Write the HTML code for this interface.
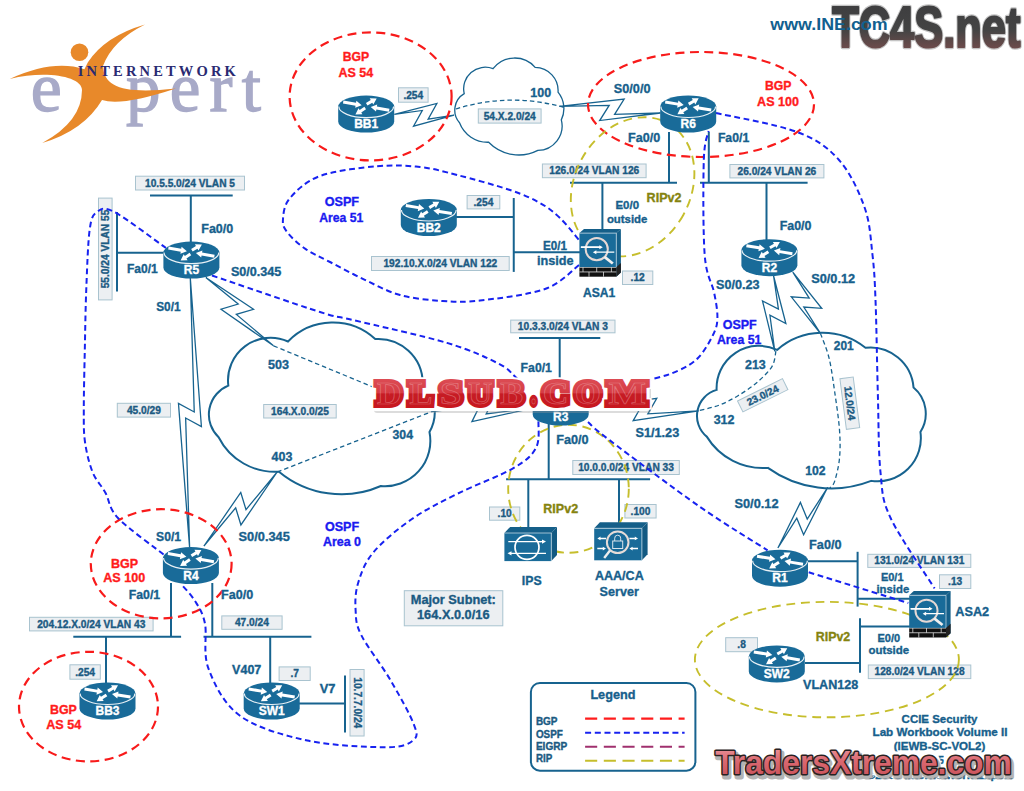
<!DOCTYPE html>
<html><head><meta charset="utf-8"><title>CCIE Security Lab Diagram</title>
<style>html,body{margin:0;padding:0;background:#fff;overflow:hidden;width:1024px;height:791px;font-family:"Liberation Sans",sans-serif}svg{display:block}</style>
</head><body>
<svg width="1024" height="791" viewBox="0 0 1024 791"><defs>
<linearGradient id="gtc" x1="0" y1="0" x2="0" y2="1">
<stop offset="0" stop-color="#3c3c3e"/><stop offset="0.55" stop-color="#444"/><stop offset="1" stop-color="#85504f"/></linearGradient>
<linearGradient id="gdl" x1="0" y1="0" x2="0" y2="1">
<stop offset="0" stop-color="#de5058"/><stop offset="0.48" stop-color="#d63c44"/><stop offset="0.52" stop-color="#c61c24"/><stop offset="1" stop-color="#c8161e"/></linearGradient>
<linearGradient id="gtx" x1="0" y1="0" x2="0" y2="1">
<stop offset="0" stop-color="#ee9ca2"/><stop offset="0.45" stop-color="#da6870"/><stop offset="1" stop-color="#c44c54"/></linearGradient>
</defs><g><text x="30.8" y="111.2" font-family='"Liberation Serif", serif' font-size="69" fill="#a8aac8" stroke="#a8aac8" stroke-width="1.3" textLength="31" lengthAdjust="spacingAndGlyphs">e</text><text x="126" y="111.2" font-family='"Liberation Serif", serif' font-size="69" fill="#a8aac8" stroke="#a8aac8" stroke-width="1.3" textLength="135" lengthAdjust="spacing">pert</text><circle cx="79.5" cy="52.2" r="8.8" fill="#e8892a"/><path d="M9.7,78.9 Q53,59 84.4,69.2 L87.9,62.2 Q105,36 145,24.4 Q112,40.8 103,66 C104,88 125,94 175.8,88.6 Q121,106.7 102,100 Q84,130.5 42.2,143 Q81.9,121.5 82,90 C82,76 45,70 9.7,78.9 Z" fill="#e8892a"/><text x="77.8" y="75.6" font-family='"Liberation Serif", serif' font-size="14.5" font-weight="bold" fill="#2a2a72" textLength="158" lengthAdjust="spacing">INTERNETWORK</text></g>
<path d="M464.22,93.65 A21.49,21.49 0 0 1 493.02,68.71 A27.19,27.19 0 0 1 535.13,67.35 A23.23,23.23 0 0 1 558.04,92.19 A25.94,25.94 0 0 1 561.32,119.85 A24.44,24.44 0 0 1 537.86,150.34 A41.93,41.93 0 0 1 488.66,142.25 A30.08,30.08 0 0 1 459.53,122.77 A19.15,19.15 0 0 1 464.22,93.65 Z" fill="#ffffff" stroke="#17638f" stroke-width="1.3"/>
<path d="M228.34,385.63 A42.56,42.56 0 0 1 288,341.48 A62.61,62.61 0 0 1 375.24,339.06 A44.47,44.47 0 0 1 422.7,383.05 A40.68,40.68 0 0 1 429.48,432.04 A45.36,45.36 0 0 1 380.89,486.03 A97.98,97.98 0 0 1 278.96,471.71 A63.21,63.21 0 0 1 218.62,437.21 A31.23,31.23 0 0 1 228.34,385.63 Z" fill="#ffffff" stroke="#17638f" stroke-width="2"/>
<path d="M716.61,389.91 A42.38,42.38 0 0 1 777.07,349.89 A68.92,68.92 0 0 1 865.46,347.7 A43.36,43.36 0 0 1 913.55,387.56 A34.01,34.01 0 0 1 920.42,431.95 A43.2,43.2 0 0 1 871.18,480.87 A108.78,108.78 0 0 1 767.91,467.9 A65.76,65.76 0 0 1 706.76,436.64 A26.97,26.97 0 0 1 716.61,389.91 Z" fill="#ffffff" stroke="#17638f" stroke-width="2"/>
<path d="M455.8,109 Q510,92 564,107.5" fill="none" stroke="#17638f" stroke-width="1.3" stroke-dasharray="4.5,3"/>
<path d="M273.5,345.8 L432,411.5" fill="none" stroke="#17638f" stroke-width="1.3" stroke-dasharray="4.5,3"/>
<path d="M277.2,472 L432,411.5" fill="none" stroke="#17638f" stroke-width="1.3" stroke-dasharray="4.5,3"/>
<path d="M775.9,351.1 C775.27,353.63 775.25,361.08 772.1,366.3 C768.95,371.52 762.68,377.5 757,382.4 C751.32,387.3 744.33,391.9 738,395.7 C731.67,399.5 725.67,402.67 719,405.2 C712.33,407.73 701.5,409.95 698,410.9 " fill="none" stroke="#17638f" stroke-width="1.3" stroke-dasharray="4.5,3"/>
<path d="M820.4,333.4 C821.83,337.47 826.62,348.03 829,357.8 C831.38,367.57 832.95,379.98 834.7,392 C836.45,404.02 838.7,418.85 839.5,429.9 C840.3,440.95 840.3,449.77 839.5,458.3 C838.7,466.83 836.28,476.15 834.7,481.1 C833.12,486.05 830.78,486.85 830,488 " fill="none" stroke="#17638f" stroke-width="1.3" stroke-dasharray="4.5,3"/>
<line x1="669" y1="132" x2="669" y2="183" stroke="#17638f" stroke-width="2"/>
<line x1="708.8" y1="132" x2="708.8" y2="183" stroke="#17638f" stroke-width="2"/>
<line x1="570" y1="182.8" x2="677" y2="182.8" stroke="#17638f" stroke-width="2"/>
<line x1="700" y1="182.8" x2="807.6" y2="182.8" stroke="#17638f" stroke-width="2"/>
<line x1="602.4" y1="182.8" x2="602.4" y2="230" stroke="#17638f" stroke-width="2"/>
<line x1="766.5" y1="182.8" x2="766.5" y2="240" stroke="#17638f" stroke-width="2"/>
<line x1="456" y1="216.9" x2="513.75" y2="216.9" stroke="#17638f" stroke-width="2"/>
<line x1="513.75" y1="198" x2="513.75" y2="271.9" stroke="#17638f" stroke-width="2"/>
<line x1="513.75" y1="252.2" x2="580" y2="252.2" stroke="#17638f" stroke-width="2"/>
<line x1="150" y1="195.5" x2="232.7" y2="195.5" stroke="#17638f" stroke-width="2"/>
<line x1="190.8" y1="195.5" x2="190.8" y2="243" stroke="#17638f" stroke-width="2"/>
<line x1="117" y1="212" x2="117" y2="291.5" stroke="#17638f" stroke-width="2"/>
<line x1="117" y1="252.7" x2="165" y2="252.7" stroke="#17638f" stroke-width="2"/>
<line x1="519" y1="338" x2="600.3" y2="338" stroke="#17638f" stroke-width="2"/>
<line x1="559.7" y1="338" x2="559.7" y2="390" stroke="#17638f" stroke-width="2"/>
<line x1="548.7" y1="424" x2="548.7" y2="479.3" stroke="#17638f" stroke-width="2"/>
<line x1="506.1" y1="479.3" x2="650.1" y2="479.3" stroke="#17638f" stroke-width="2"/>
<line x1="528.3" y1="479.3" x2="528.3" y2="527" stroke="#17638f" stroke-width="2"/>
<line x1="619" y1="479.3" x2="619" y2="524" stroke="#17638f" stroke-width="2"/>
<line x1="171" y1="583" x2="171" y2="636.7" stroke="#17638f" stroke-width="2"/>
<line x1="212.3" y1="583" x2="212.3" y2="636.7" stroke="#17638f" stroke-width="2"/>
<line x1="73.3" y1="636.7" x2="181.1" y2="636.7" stroke="#17638f" stroke-width="2"/>
<line x1="203.5" y1="636.7" x2="311.4" y2="636.7" stroke="#17638f" stroke-width="2"/>
<line x1="106" y1="636.7" x2="106" y2="684" stroke="#17638f" stroke-width="2"/>
<line x1="270.2" y1="636.7" x2="270.2" y2="684" stroke="#17638f" stroke-width="2"/>
<line x1="299" y1="703.4" x2="345" y2="703.4" stroke="#17638f" stroke-width="2"/>
<line x1="345" y1="675.4" x2="345" y2="732.6" stroke="#17638f" stroke-width="2"/>
<line x1="808" y1="561.2" x2="857.6" y2="561.2" stroke="#17638f" stroke-width="2"/>
<line x1="857.6" y1="551.8" x2="857.6" y2="606.6" stroke="#17638f" stroke-width="2"/>
<line x1="857.6" y1="598.7" x2="910" y2="598.7" stroke="#17638f" stroke-width="2"/>
<line x1="805" y1="663" x2="860" y2="663" stroke="#17638f" stroke-width="2"/>
<line x1="860" y1="618.2" x2="860" y2="672.7" stroke="#17638f" stroke-width="2"/>
<line x1="860" y1="626.4" x2="910" y2="626.4" stroke="#17638f" stroke-width="2"/>
<polygon points="394.3,114.4 436.85,103.47 428.14,119.15 454,115.2 413.54,126.16 422.26,110.47" fill="none" stroke="#17638f" stroke-width="1.3" stroke-linejoin="miter"/>
<polygon points="660.5,113 599.68,120.55 609.19,105.34 559.4,106.4 624.13,99.1 614.62,114.31" fill="none" stroke="#17638f" stroke-width="1.3" stroke-linejoin="miter"/>
<polygon points="205.8,277.5 253.53,309.32 236.33,314.4 273.5,345.8 221,309.18 238.21,304.09" fill="none" stroke="#17638f" stroke-width="1.3" stroke-linejoin="miter"/>
<polygon points="190.3,278 201.41,426.53 185.64,417.99 189.6,547.5 178.47,403.47 194.25,412.01" fill="none" stroke="#17638f" stroke-width="1.3" stroke-linejoin="miter"/>
<polygon points="203.9,546 240.77,492.44 246.01,509.6 277.2,472 240.92,524.96 235.68,507.81" fill="none" stroke="#17638f" stroke-width="1.3" stroke-linejoin="miter"/>
<polygon points="533,408 471.94,421.62 479.88,405.54 432,411.5 494.12,397.84 486.18,413.93" fill="none" stroke="#17638f" stroke-width="1.3" stroke-linejoin="miter"/>
<polygon points="588,408 656.77,398.24 647.87,413.82 698.7,410.8 633.19,420.65 642.09,405.07" fill="none" stroke="#17638f" stroke-width="1.3" stroke-linejoin="miter"/>
<polygon points="773.6,276 785.86,323.51 769.92,315.26 774.8,351.4 762.49,300.88 778.43,309.13" fill="none" stroke="#17638f" stroke-width="1.3" stroke-linejoin="miter"/>
<polygon points="792.8,272.2 821.7,308.31 803.8,307.06 820.4,333.4 791.28,296.8 809.18,298.05" fill="none" stroke="#17638f" stroke-width="1.3" stroke-linejoin="miter"/>
<polygon points="777.9,548 800.41,502.44 807.23,519.03 827.7,487.3 803.6,534.81 796.78,518.21" fill="none" stroke="#17638f" stroke-width="1.3" stroke-linejoin="miter"/>
<rect x="398.5" y="87.8" width="29.6" height="14.4" fill="#eceff2" stroke="#a9c3cf" stroke-width="1"/><text x="413.3" y="98.51" font-family='"Liberation Sans", sans-serif' font-size="10.2" font-weight="bold" fill="#1b5a82" stroke="#1b5a82" stroke-width="0.35" text-anchor="middle" >.254</text>
<rect x="478.3" y="108.9" width="62.8" height="14.2" fill="#eceff2" stroke="#a9c3cf" stroke-width="1"/><text x="509.7" y="119.51" font-family='"Liberation Sans", sans-serif' font-size="10.2" font-weight="bold" fill="#1b5a82" stroke="#1b5a82" stroke-width="0.35" text-anchor="middle" >54.X.2.0/24</text>
<rect x="542.4" y="164" width="103.7" height="13.7" fill="#eceff2" stroke="#a9c3cf" stroke-width="1"/><text x="594.25" y="174.36" font-family='"Liberation Sans", sans-serif' font-size="10.2" font-weight="bold" fill="#1b5a82" stroke="#1b5a82" stroke-width="0.35" text-anchor="middle" >126.0/24 VLAN 126</text>
<rect x="729.9" y="164.5" width="94" height="13.4" fill="#eceff2" stroke="#a9c3cf" stroke-width="1"/><text x="776.9" y="174.71" font-family='"Liberation Sans", sans-serif' font-size="10.2" font-weight="bold" fill="#1b5a82" stroke="#1b5a82" stroke-width="0.35" text-anchor="middle" >26.0/24 VLAN 26</text>
<rect x="622.5" y="271" width="30.3" height="13.5" fill="#eceff2" stroke="#a9c3cf" stroke-width="1"/><text x="637.65" y="281.26" font-family='"Liberation Sans", sans-serif' font-size="10.2" font-weight="bold" fill="#1b5a82" stroke="#1b5a82" stroke-width="0.35" text-anchor="middle" >.12</text>
<rect x="467.1" y="195.5" width="32.7" height="13.4" fill="#eceff2" stroke="#a9c3cf" stroke-width="1"/><text x="483.45" y="205.71" font-family='"Liberation Sans", sans-serif' font-size="10.2" font-weight="bold" fill="#1b5a82" stroke="#1b5a82" stroke-width="0.35" text-anchor="middle" >.254</text>
<rect x="371.5" y="256.5" width="137.7" height="14" fill="#eceff2" stroke="#a9c3cf" stroke-width="1"/><text x="440.35" y="267.01" font-family='"Liberation Sans", sans-serif' font-size="10.2" font-weight="bold" fill="#1b5a82" stroke="#1b5a82" stroke-width="0.35" text-anchor="middle" >192.10.X.0/24 VLAN 122</text>
<rect x="135.5" y="176.2" width="109" height="13.8" fill="#eceff2" stroke="#a9c3cf" stroke-width="1"/><text x="190" y="186.61" font-family='"Liberation Sans", sans-serif' font-size="10.2" font-weight="bold" fill="#1b5a82" stroke="#1b5a82" stroke-width="0.35" text-anchor="middle" >10.5.5.0/24 VLAN 5</text>
<rect x="98.5" y="198.1" width="13.6" height="101.8" fill="#eceff2" stroke="#a9c3cf" stroke-width="1"/><g transform="translate(105.3,249) rotate(-90)"><text x="0" y="3.51" font-family='"Liberation Sans", sans-serif' font-size="10.2" font-weight="bold" fill="#1b5a82" stroke="#1b5a82" stroke-width="0.35" text-anchor="middle" >55.0/24 VLAN 55</text></g>
<rect x="117.3" y="403.3" width="53.2" height="13.8" fill="#eceff2" stroke="#a9c3cf" stroke-width="1"/><text x="143.9" y="413.71" font-family='"Liberation Sans", sans-serif' font-size="10.2" font-weight="bold" fill="#1b5a82" stroke="#1b5a82" stroke-width="0.35" text-anchor="middle" >45.0/29</text>
<rect x="263.7" y="404.5" width="72.5" height="13.5" fill="#eceff2" stroke="#a9c3cf" stroke-width="1"/><text x="299.95" y="414.76" font-family='"Liberation Sans", sans-serif' font-size="10.2" font-weight="bold" fill="#1b5a82" stroke="#1b5a82" stroke-width="0.35" text-anchor="middle" >164.X.0.0/25</text>
<rect x="510.7" y="320.1" width="104.3" height="12.7" fill="#eceff2" stroke="#a9c3cf" stroke-width="1"/><text x="562.85" y="329.96" font-family='"Liberation Sans", sans-serif' font-size="10.2" font-weight="bold" fill="#1b5a82" stroke="#1b5a82" stroke-width="0.35" text-anchor="middle" >10.3.3.0/24 VLAN 3</text>
<rect x="572.8" y="460.5" width="106.5" height="14" fill="#eceff2" stroke="#a9c3cf" stroke-width="1"/><text x="626.05" y="471.01" font-family='"Liberation Sans", sans-serif' font-size="10.2" font-weight="bold" fill="#1b5a82" stroke="#1b5a82" stroke-width="0.35" text-anchor="middle" >10.0.0.0/24 VLAN 33</text>
<rect x="489.5" y="507" width="30.3" height="13.2" fill="#eceff2" stroke="#a9c3cf" stroke-width="1"/><text x="504.65" y="517.11" font-family='"Liberation Sans", sans-serif' font-size="10.2" font-weight="bold" fill="#1b5a82" stroke="#1b5a82" stroke-width="0.35" text-anchor="middle" >.10</text>
<rect x="624.9" y="504.5" width="31.2" height="13.5" fill="#eceff2" stroke="#a9c3cf" stroke-width="1"/><text x="640.5" y="514.76" font-family='"Liberation Sans", sans-serif' font-size="10.2" font-weight="bold" fill="#1b5a82" stroke="#1b5a82" stroke-width="0.35" text-anchor="middle" >.100</text>
<rect x="29.5" y="617.3" width="123.6" height="13.6" fill="#eceff2" stroke="#a9c3cf" stroke-width="1"/><text x="91.3" y="627.61" font-family='"Liberation Sans", sans-serif' font-size="10.2" font-weight="bold" fill="#1b5a82" stroke="#1b5a82" stroke-width="0.35" text-anchor="middle" >204.12.X.0/24 VLAN 43</text>
<rect x="221.8" y="615.9" width="60.3" height="13.4" fill="#eceff2" stroke="#a9c3cf" stroke-width="1"/><text x="251.95" y="626.11" font-family='"Liberation Sans", sans-serif' font-size="10.2" font-weight="bold" fill="#1b5a82" stroke="#1b5a82" stroke-width="0.35" text-anchor="middle" >47.0/24</text>
<rect x="69.9" y="664.8" width="30.4" height="14.4" fill="#eceff2" stroke="#a9c3cf" stroke-width="1"/><text x="85.1" y="675.51" font-family='"Liberation Sans", sans-serif' font-size="10.2" font-weight="bold" fill="#1b5a82" stroke="#1b5a82" stroke-width="0.35" text-anchor="middle" >.254</text>
<rect x="279.1" y="666.9" width="31.1" height="13.6" fill="#eceff2" stroke="#a9c3cf" stroke-width="1"/><text x="294.65" y="677.21" font-family='"Liberation Sans", sans-serif' font-size="10.2" font-weight="bold" fill="#1b5a82" stroke="#1b5a82" stroke-width="0.35" text-anchor="middle" >.7</text>
<rect x="350" y="669.5" width="14.1" height="66.5" fill="#eceff2" stroke="#a9c3cf" stroke-width="1"/><g transform="translate(357.05,702.75) rotate(90)"><text x="0" y="3.51" font-family='"Liberation Sans", sans-serif' font-size="10.2" font-weight="bold" fill="#1b5a82" stroke="#1b5a82" stroke-width="0.35" text-anchor="middle" >10.7.7.0/24</text></g>
<rect x="867.8" y="554.3" width="103" height="13.1" fill="#eceff2" stroke="#a9c3cf" stroke-width="1"/><text x="919.3" y="564.36" font-family='"Liberation Sans", sans-serif' font-size="10.2" font-weight="bold" fill="#1b5a82" stroke="#1b5a82" stroke-width="0.35" text-anchor="middle" >131.0/24 VLAN 131</text>
<rect x="939.5" y="574.8" width="31.3" height="13.7" fill="#eceff2" stroke="#a9c3cf" stroke-width="1"/><text x="955.15" y="585.16" font-family='"Liberation Sans", sans-serif' font-size="10.2" font-weight="bold" fill="#1b5a82" stroke="#1b5a82" stroke-width="0.35" text-anchor="middle" >.13</text>
<rect x="725.7" y="637.7" width="31.8" height="14" fill="#eceff2" stroke="#a9c3cf" stroke-width="1"/><text x="741.6" y="648.21" font-family='"Liberation Sans", sans-serif' font-size="10.2" font-weight="bold" fill="#1b5a82" stroke="#1b5a82" stroke-width="0.35" text-anchor="middle" >.8</text>
<rect x="868.3" y="665" width="102.5" height="13.6" fill="#eceff2" stroke="#a9c3cf" stroke-width="1"/><text x="919.55" y="675.31" font-family='"Liberation Sans", sans-serif' font-size="10.2" font-weight="bold" fill="#1b5a82" stroke="#1b5a82" stroke-width="0.35" text-anchor="middle" >128.0/24 VLAN 128</text>
<g transform="translate(762.7,395.3) rotate(-26.4)"><rect x="-25.1" y="-6.1" width="50.2" height="12.2" fill="#eceff2" stroke="#a9c3cf" stroke-width="1"/><text x="0" y="3.51" font-family='"Liberation Sans", sans-serif' font-size="10.2" font-weight="bold" fill="#1b5a82" stroke="#1b5a82" stroke-width="0.35" text-anchor="middle" >23.0/24</text></g>
<g transform="translate(849.8,403.2) rotate(82.7)"><rect x="-25.5" y="-6.7" width="51" height="13.4" fill="#eceff2" stroke="#a9c3cf" stroke-width="1"/><text x="0" y="3.51" font-family='"Liberation Sans", sans-serif' font-size="10.2" font-weight="bold" fill="#1b5a82" stroke="#1b5a82" stroke-width="0.35" text-anchor="middle" >12.0/24</text></g>
<rect x="404.3" y="590.7" width="98.5" height="35.1" fill="#eceff2" stroke="#a9c3cf" stroke-width="1"/>
<text x="453.3" y="604.03" font-family='"Liberation Sans", sans-serif' font-size="12.6" font-weight="bold" fill="#1b5a82" stroke="#1b5a82" stroke-width="0.35" text-anchor="middle" textLength="85" lengthAdjust="spacingAndGlyphs">Major Subnet:</text>
<text x="453.25" y="619.23" font-family='"Liberation Sans", sans-serif' font-size="12.6" font-weight="bold" fill="#1b5a82" stroke="#1b5a82" stroke-width="0.35" text-anchor="middle" textLength="72.5" lengthAdjust="spacingAndGlyphs">164.X.0.0/16</text>
<ellipse cx="370.6" cy="96.4" rx="81" ry="64" fill="none" stroke="#f81a1a" stroke-width="2.2" stroke-dasharray="9,5.5"/>
<ellipse cx="701" cy="104.5" rx="113" ry="52.5" fill="none" stroke="#f81a1a" stroke-width="2.2" stroke-dasharray="9,5.5"/>
<ellipse cx="161.2" cy="563.8" rx="70.4" ry="54.6" fill="none" stroke="#f81a1a" stroke-width="2.2" stroke-dasharray="9,5.5"/>
<ellipse cx="88.5" cy="706.6" rx="69.5" ry="54.8" fill="none" stroke="#f81a1a" stroke-width="2.2" stroke-dasharray="9,5.5"/>
<ellipse cx="632.6" cy="186.8" rx="58" ry="72.75" fill="none" stroke="#c6be2c" stroke-width="1.9" stroke-dasharray="8.8,5.8" transform="rotate(29 632.6 186.8)"/>
<ellipse cx="568.5" cy="488.8" rx="60.3" ry="64" fill="none" stroke="#c6be2c" stroke-width="1.9" stroke-dasharray="8.8,5.8"/>
<ellipse cx="826.9" cy="659.6" rx="132" ry="57.7" fill="none" stroke="#c6be2c" stroke-width="1.9" stroke-dasharray="8.8,5.8"/>
<path d="M579,265 C573.33,269 561.5,283.08 545,289 C528.5,294.92 497.08,298.5 480,300.5 C462.92,302.5 455.83,301.92 442.5,301 C429.17,300.08 413.12,298.62 400,295 C386.88,291.38 375.47,284.8 363.8,279.3 C352.13,273.8 339.73,267.07 330,262 C320.27,256.93 312.57,253.9 305.4,248.9 C298.23,243.9 290.73,236.98 287,232 C283.27,227.02 282.5,224.67 283,219 C283.5,213.33 283.83,205.17 290,198 C296.17,190.83 305.58,181.28 320,176 C334.42,170.72 359.83,167.8 376.5,166.3 C393.17,164.8 406.45,165.52 420,167 C433.55,168.48 442.8,171.37 457.8,175.2 C472.8,179.03 496.3,185.37 510,190 C523.7,194.63 531.67,198.33 540,203 C548.33,207.67 553.5,211.83 560,218 C566.5,224.17 575.83,236.33 579,240 " fill="none" stroke="#1722f0" stroke-width="2" stroke-dasharray="5.8,3.6"/>
<path d="M163.6,554.5 C156,548.42 127.7,528.3 118,518 C108.3,507.7 109.62,500.3 105.4,492.7 C101.18,485.1 96.1,480.85 92.7,472.4 C89.3,463.95 86.48,452.58 85,442 C83.52,431.42 83.83,424.23 83.8,408.9 C83.77,393.57 84.38,370.07 84.8,350 C85.22,329.93 85.48,308.6 86.3,288.5 C87.12,268.4 87.92,242.15 89.7,229.4 C91.48,216.65 92.9,214.9 97,212 C101.1,209.1 102.8,206 114.3,212 C125.8,218 157.38,242 166,248 " fill="none" stroke="#1722f0" stroke-width="2" stroke-dasharray="5.8,3.6"/>
<path d="M212,275.5 C230,281.58 296.5,304.58 320,312 C343.5,319.42 331.83,314.85 353,320 C374.17,325.15 422.87,335.7 447,342.9 C471.13,350.1 486.38,357.52 497.8,363.2 C509.22,368.88 508.8,370.87 515.5,377 C522.2,383.13 534.25,396.17 538,400 " fill="none" stroke="#1722f0" stroke-width="2" stroke-dasharray="5.8,3.6"/>
<path d="M538.5,421.4 C538.08,425.83 540.25,440.17 536,448 C531.75,455.83 526.12,460.77 513,468.4 C499.88,476.03 474.2,485.33 457.3,493.8 C440.4,502.27 425.57,509.47 411.6,519.2 C397.63,528.93 382.4,541.62 373.5,552.2 C364.6,562.78 361.18,573.07 358.2,582.7 C355.22,592.33 355.1,601.28 355.6,610 C356.1,618.72 355.4,623.33 361.2,635 C367,646.67 381.6,665.03 390.4,680 C399.2,694.97 410.25,714.72 414,724.8 C417.75,734.88 417.57,736.77 412.9,740.5 C408.23,744.23 403.6,747.2 386,747.2 C368.4,747.2 331.63,745.73 307.3,740.5 C282.97,735.27 256.47,727.78 240,715.8 C223.53,703.82 214.33,683.95 208.5,668.6 C202.67,653.25 207.25,634.97 205,623.7 C202.75,612.43 199,607.62 195,601 C191,594.38 183.33,586.83 181,584 " fill="none" stroke="#1722f0" stroke-width="2" stroke-dasharray="5.8,3.6"/>
<path d="M590,392 C599.97,389.95 635.17,383.23 649.8,379.7 C664.43,376.17 669.77,374.42 677.8,370.8 C685.83,367.18 692.13,363.97 698,358 C703.87,352.03 709.77,341.63 713,335 C716.23,328.37 717.2,325.2 717.4,318.2 C717.6,311.2 716.32,303.53 714.2,293 C712.08,282.47 706.43,277.17 704.7,255 C702.97,232.83 703.15,180.67 703.8,160 C704.45,139.33 707.8,135.83 708.6,131 " fill="none" stroke="#1722f0" stroke-width="2" stroke-dasharray="5.8,3.6"/>
<path d="M716,113 C729.5,116.17 776.5,124.17 797,132 C817.5,139.83 827.73,147.42 839,160 C850.27,172.58 859.02,191.67 864.6,207.5 C870.18,223.33 870.67,239.18 872.5,255 C874.33,270.82 874.7,278.9 875.6,302.4 C876.5,325.9 877.08,367.67 877.9,396 C878.72,424.33 878.38,452.07 880.5,472.4 C882.62,492.73 881.58,498.67 890.6,518 C899.62,537.33 927.27,576.67 934.6,588.4 " fill="none" stroke="#1722f0" stroke-width="2" stroke-dasharray="5.8,3.6"/>
<path d="M588,422 C591.55,425 590.7,425.9 609.3,440 C627.9,454.1 673.22,488.22 699.6,506.6 C725.98,524.98 756.27,543.02 767.6,550.3 " fill="none" stroke="#1722f0" stroke-width="2" stroke-dasharray="5.8,3.6"/>
<path d="M808.7,572.3 C825.3,577.42 891.7,597.88 908.3,603 " fill="none" stroke="#1722f0" stroke-width="2" stroke-dasharray="5.8,3.6"/>
<g><path d="M338.2,106.6 L338.2,121.6 A28,11 0 0 0 394.2,121.6 L394.2,106.6 Z" fill="#196b99"/><ellipse cx="366.2" cy="106.6" rx="28" ry="11" fill="#196b99"/><path d="M338.8,106.6 A27.4,11 0 0 0 393.6,106.6" fill="none" stroke="#e8f0f5" stroke-width="1.2"/><polygon points="342.95,103.58 355.53,105.69 355.19,107.76 361.7,105.2 356.38,100.66 356.03,102.73 343.45,100.62" fill="#fff"/><polygon points="389.46,108.72 376.87,106.54 377.23,104.48 370.7,107 376,111.57 376.36,109.5 388.94,111.68" fill="#fff"/><polygon points="367.45,105.5 372.26,102.71 373.32,104.52 376.7,98.4 369.7,98.3 370.76,100.11 365.95,102.9" fill="#fff"/><polygon points="364.39,106.84 359.64,109.89 358.5,108.13 355.4,114.4 362.39,114.18 361.26,112.42 366.01,109.36" fill="#fff"/><text x="366.2" y="128.33" font-family='"Liberation Sans", sans-serif' font-size="12" font-weight="bold" fill="#ffffff" stroke="#ffffff" stroke-width="0.35" text-anchor="middle" >BB1</text></g>
<g><path d="M660.2,106.5 L660.2,121.5 A28,11 0 0 0 716.2,121.5 L716.2,106.5 Z" fill="#196b99"/><ellipse cx="688.2" cy="106.5" rx="28" ry="11" fill="#196b99"/><path d="M660.8,106.5 A27.4,11 0 0 0 715.6,106.5" fill="none" stroke="#e8f0f5" stroke-width="1.2"/><polygon points="664.95,103.48 677.53,105.59 677.19,107.66 683.7,105.1 678.38,100.56 678.03,102.63 665.45,100.52" fill="#fff"/><polygon points="711.46,108.62 698.87,106.44 699.23,104.38 692.7,106.9 698,111.47 698.36,109.4 710.94,111.58" fill="#fff"/><polygon points="689.45,105.4 694.26,102.61 695.32,104.42 698.7,98.3 691.7,98.2 692.76,100.01 687.95,102.8" fill="#fff"/><polygon points="686.39,106.74 681.64,109.79 680.5,108.03 677.4,114.3 684.39,114.08 683.26,112.32 688.01,109.26" fill="#fff"/><text x="688.2" y="128.23" font-family='"Liberation Sans", sans-serif' font-size="12" font-weight="bold" fill="#ffffff" stroke="#ffffff" stroke-width="0.35" text-anchor="middle" >R6</text></g>
<g><path d="M400.8,210 L400.8,225 A28,11 0 0 0 456.8,225 L456.8,210 Z" fill="#196b99"/><ellipse cx="428.8" cy="210" rx="28" ry="11" fill="#196b99"/><path d="M401.4,210 A27.4,11 0 0 0 456.2,210" fill="none" stroke="#e8f0f5" stroke-width="1.2"/><polygon points="405.55,206.98 418.13,209.09 417.79,211.16 424.3,208.6 418.98,204.06 418.63,206.13 406.05,204.02" fill="#fff"/><polygon points="452.06,212.12 439.47,209.94 439.83,207.88 433.3,210.4 438.6,214.97 438.96,212.9 451.54,215.08" fill="#fff"/><polygon points="430.05,208.9 434.86,206.11 435.92,207.92 439.3,201.8 432.3,201.7 433.36,203.51 428.55,206.3" fill="#fff"/><polygon points="426.99,210.24 422.24,213.29 421.1,211.53 418,217.8 424.99,217.58 423.86,215.82 428.61,212.76" fill="#fff"/><text x="428.8" y="231.73" font-family='"Liberation Sans", sans-serif' font-size="12" font-weight="bold" fill="#ffffff" stroke="#ffffff" stroke-width="0.35" text-anchor="middle" >BB2</text></g>
<g><path d="M163.4,252.6 L163.4,267.6 A28,11 0 0 0 219.4,267.6 L219.4,252.6 Z" fill="#196b99"/><ellipse cx="191.4" cy="252.6" rx="28" ry="11" fill="#196b99"/><path d="M164,252.6 A27.4,11 0 0 0 218.8,252.6" fill="none" stroke="#e8f0f5" stroke-width="1.2"/><polygon points="168.15,249.58 180.73,251.69 180.39,253.76 186.9,251.2 181.58,246.66 181.23,248.73 168.65,246.62" fill="#fff"/><polygon points="214.66,254.72 202.07,252.54 202.43,250.48 195.9,253 201.2,257.57 201.56,255.5 214.14,257.68" fill="#fff"/><polygon points="192.65,251.5 197.46,248.71 198.52,250.52 201.9,244.4 194.9,244.3 195.96,246.11 191.15,248.9" fill="#fff"/><polygon points="189.59,252.84 184.84,255.89 183.7,254.13 180.6,260.4 187.59,260.18 186.46,258.42 191.21,255.36" fill="#fff"/><text x="191.4" y="274.33" font-family='"Liberation Sans", sans-serif' font-size="12" font-weight="bold" fill="#ffffff" stroke="#ffffff" stroke-width="0.35" text-anchor="middle" >R5</text></g>
<g><path d="M741.4,250.2 L741.4,265.2 A28,11 0 0 0 797.4,265.2 L797.4,250.2 Z" fill="#196b99"/><ellipse cx="769.4" cy="250.2" rx="28" ry="11" fill="#196b99"/><path d="M742,250.2 A27.4,11 0 0 0 796.8,250.2" fill="none" stroke="#e8f0f5" stroke-width="1.2"/><polygon points="746.15,247.18 758.73,249.29 758.39,251.36 764.9,248.8 759.58,244.26 759.23,246.33 746.65,244.22" fill="#fff"/><polygon points="792.66,252.32 780.07,250.14 780.43,248.08 773.9,250.6 779.2,255.17 779.56,253.1 792.14,255.28" fill="#fff"/><polygon points="770.65,249.1 775.46,246.31 776.52,248.12 779.9,242 772.9,241.9 773.96,243.71 769.15,246.5" fill="#fff"/><polygon points="767.59,250.44 762.84,253.49 761.7,251.73 758.6,258 765.59,257.78 764.46,256.02 769.21,252.96" fill="#fff"/><text x="769.4" y="271.93" font-family='"Liberation Sans", sans-serif' font-size="12" font-weight="bold" fill="#ffffff" stroke="#ffffff" stroke-width="0.35" text-anchor="middle" >R2</text></g>
<g><path d="M532.7,399.5 L532.7,414.5 A28,11 0 0 0 588.7,414.5 L588.7,399.5 Z" fill="#196b99"/><ellipse cx="560.7" cy="399.5" rx="28" ry="11" fill="#196b99"/><path d="M533.3,399.5 A27.4,11 0 0 0 588.1,399.5" fill="none" stroke="#e8f0f5" stroke-width="1.2"/><polygon points="537.45,396.48 550.03,398.59 549.69,400.66 556.2,398.1 550.88,393.56 550.53,395.63 537.95,393.52" fill="#fff"/><polygon points="583.96,401.62 571.37,399.44 571.73,397.38 565.2,399.9 570.5,404.47 570.86,402.4 583.44,404.58" fill="#fff"/><polygon points="561.95,398.4 566.76,395.61 567.82,397.42 571.2,391.3 564.2,391.2 565.26,393.01 560.45,395.8" fill="#fff"/><polygon points="558.89,399.74 554.14,402.79 553,401.03 549.9,407.3 556.89,407.08 555.76,405.32 560.51,402.26" fill="#fff"/><text x="560.7" y="421.23" font-family='"Liberation Sans", sans-serif' font-size="12" font-weight="bold" fill="#ffffff" stroke="#ffffff" stroke-width="0.35" text-anchor="middle" >R3</text></g>
<g><path d="M162.9,558.1 L162.9,573.1 A28,11 0 0 0 218.9,573.1 L218.9,558.1 Z" fill="#196b99"/><ellipse cx="190.9" cy="558.1" rx="28" ry="11" fill="#196b99"/><path d="M163.5,558.1 A27.4,11 0 0 0 218.3,558.1" fill="none" stroke="#e8f0f5" stroke-width="1.2"/><polygon points="167.65,555.08 180.23,557.19 179.89,559.26 186.4,556.7 181.08,552.16 180.73,554.23 168.15,552.12" fill="#fff"/><polygon points="214.16,560.22 201.57,558.04 201.93,555.98 195.4,558.5 200.7,563.07 201.06,561 213.64,563.18" fill="#fff"/><polygon points="192.15,557 196.96,554.21 198.02,556.02 201.4,549.9 194.4,549.8 195.46,551.61 190.65,554.4" fill="#fff"/><polygon points="189.09,558.34 184.34,561.39 183.2,559.63 180.1,565.9 187.09,565.68 185.96,563.92 190.71,560.86" fill="#fff"/><text x="190.9" y="579.83" font-family='"Liberation Sans", sans-serif' font-size="12" font-weight="bold" fill="#ffffff" stroke="#ffffff" stroke-width="0.35" text-anchor="middle" >R4</text></g>
<g><path d="M79.5,693.5 L79.5,708.5 A28,11 0 0 0 135.5,708.5 L135.5,693.5 Z" fill="#196b99"/><ellipse cx="107.5" cy="693.5" rx="28" ry="11" fill="#196b99"/><path d="M80.1,693.5 A27.4,11 0 0 0 134.9,693.5" fill="none" stroke="#e8f0f5" stroke-width="1.2"/><polygon points="84.25,690.48 96.83,692.59 96.49,694.66 103,692.1 97.68,687.56 97.33,689.63 84.75,687.52" fill="#fff"/><polygon points="130.76,695.62 118.17,693.44 118.53,691.38 112,693.9 117.3,698.47 117.66,696.4 130.24,698.58" fill="#fff"/><polygon points="108.75,692.4 113.56,689.61 114.62,691.42 118,685.3 111,685.2 112.06,687.01 107.25,689.8" fill="#fff"/><polygon points="105.69,693.74 100.94,696.79 99.8,695.03 96.7,701.3 103.69,701.08 102.56,699.32 107.31,696.26" fill="#fff"/><text x="107.5" y="715.23" font-family='"Liberation Sans", sans-serif' font-size="12" font-weight="bold" fill="#ffffff" stroke="#ffffff" stroke-width="0.35" text-anchor="middle" >BB3</text></g>
<g><path d="M243.7,693.5 L243.7,708.5 A28,11 0 0 0 299.7,708.5 L299.7,693.5 Z" fill="#196b99"/><ellipse cx="271.7" cy="693.5" rx="28" ry="11" fill="#196b99"/><path d="M244.3,693.5 A27.4,11 0 0 0 299.1,693.5" fill="none" stroke="#e8f0f5" stroke-width="1.2"/><polygon points="248.45,690.48 261.03,692.59 260.69,694.66 267.2,692.1 261.88,687.56 261.53,689.63 248.95,687.52" fill="#fff"/><polygon points="294.96,695.62 282.37,693.44 282.73,691.38 276.2,693.9 281.5,698.47 281.86,696.4 294.44,698.58" fill="#fff"/><polygon points="272.95,692.4 277.76,689.61 278.82,691.42 282.2,685.3 275.2,685.2 276.26,687.01 271.45,689.8" fill="#fff"/><polygon points="269.89,693.74 265.14,696.79 264,695.03 260.9,701.3 267.89,701.08 266.76,699.32 271.51,696.26" fill="#fff"/><text x="271.7" y="715.23" font-family='"Liberation Sans", sans-serif' font-size="12" font-weight="bold" fill="#ffffff" stroke="#ffffff" stroke-width="0.35" text-anchor="middle" >SW1</text></g>
<g><path d="M752,560.7 L752,575.7 A28,11 0 0 0 808,575.7 L808,560.7 Z" fill="#196b99"/><ellipse cx="780" cy="560.7" rx="28" ry="11" fill="#196b99"/><path d="M752.6,560.7 A27.4,11 0 0 0 807.4,560.7" fill="none" stroke="#e8f0f5" stroke-width="1.2"/><polygon points="756.75,557.68 769.33,559.79 768.99,561.86 775.5,559.3 770.18,554.76 769.83,556.83 757.25,554.72" fill="#fff"/><polygon points="803.26,562.82 790.67,560.64 791.03,558.58 784.5,561.1 789.8,565.67 790.16,563.6 802.74,565.78" fill="#fff"/><polygon points="781.25,559.6 786.06,556.81 787.12,558.62 790.5,552.5 783.5,552.4 784.56,554.21 779.75,557" fill="#fff"/><polygon points="778.19,560.94 773.44,563.99 772.3,562.23 769.2,568.5 776.19,568.28 775.06,566.52 779.81,563.46" fill="#fff"/><text x="780" y="582.43" font-family='"Liberation Sans", sans-serif' font-size="12" font-weight="bold" fill="#ffffff" stroke="#ffffff" stroke-width="0.35" text-anchor="middle" >R1</text></g>
<g><path d="M748.8,656.4 L748.8,671.4 A28,11 0 0 0 804.8,671.4 L804.8,656.4 Z" fill="#196b99"/><ellipse cx="776.8" cy="656.4" rx="28" ry="11" fill="#196b99"/><path d="M749.4,656.4 A27.4,11 0 0 0 804.2,656.4" fill="none" stroke="#e8f0f5" stroke-width="1.2"/><polygon points="753.55,653.38 766.13,655.49 765.79,657.56 772.3,655 766.98,650.46 766.63,652.53 754.05,650.42" fill="#fff"/><polygon points="800.06,658.52 787.47,656.34 787.83,654.28 781.3,656.8 786.6,661.37 786.96,659.3 799.54,661.48" fill="#fff"/><polygon points="778.05,655.3 782.86,652.51 783.92,654.32 787.3,648.2 780.3,648.1 781.36,649.91 776.55,652.7" fill="#fff"/><polygon points="774.99,656.64 770.24,659.69 769.1,657.93 766,664.2 772.99,663.98 771.86,662.22 776.61,659.16" fill="#fff"/><text x="776.8" y="678.13" font-family='"Liberation Sans", sans-serif' font-size="12" font-weight="bold" fill="#ffffff" stroke="#ffffff" stroke-width="0.35" text-anchor="middle" >SW2</text></g>
<g><polygon points="579.4,233.1 584,228.9 620.9,228.9 616.3,233.1" fill="#155f89"/><polygon points="616.3,233.1 620.9,228.9 620.9,272.5 616.3,276.7" fill="#155f89"/><rect x="579.4" y="233.1" width="36.9" height="34.1" fill="#196b99"/><path d="M579.4,233.1 L616.3,233.1 L616.3,267.2" fill="none" stroke="#cfe0ea" stroke-width="0.7"/><circle cx="596.74" cy="249.13" r="11.07" fill="none" stroke="#e6d8d4" stroke-width="2"/><line x1="604.49" y1="256.88" x2="612.79" y2="263.52" stroke="#f0f0f0" stroke-width="2.8"/><line x1="580.9" y1="247.23" x2="600.06" y2="247.23" stroke="#ffffff" stroke-width="1.6"/><polygon points="580.9,247.93 599.33,247.93 599.33,249.23 602.83,247.23 599.33,245.23 599.33,246.53 580.9,246.53" fill="#fff"/><polygon points="614.3,251.43 596.37,251.43 596.37,250.13 592.87,252.13 596.37,254.13 596.37,252.83 614.3,252.83" fill="#fff"/><rect x="579.4" y="267.2" width="36.9" height="9.5" fill="#111"/><polygon points="616.3,267.2 620.9,263 620.9,272.5 616.3,276.7" fill="#222"/><line x1="579.4" y1="271.95" x2="616.3" y2="271.95" stroke="#ddd" stroke-width="0.8"/><line x1="579.4" y1="267.5" x2="616.3" y2="267.5" stroke="#ddd" stroke-width="0.6"/><line x1="583" y1="267.2" x2="583" y2="271.95" stroke="#ddd" stroke-width="0.8"/><line x1="596.7" y1="267.2" x2="596.7" y2="271.95" stroke="#ddd" stroke-width="0.8"/><line x1="611.4" y1="267.2" x2="611.4" y2="271.95" stroke="#ddd" stroke-width="0.8"/><line x1="589" y1="271.95" x2="589" y2="276.7" stroke="#ddd" stroke-width="0.8"/><line x1="603.5" y1="271.95" x2="603.5" y2="276.7" stroke="#ddd" stroke-width="0.8"/></g>
<g><polygon points="909.2,595.3 913.8,591.1 950.6,591.1 946,595.3" fill="#155f89"/><polygon points="946,595.3 950.6,591.1 950.6,633.3 946,637.5" fill="#155f89"/><rect x="909.2" y="595.3" width="36.8" height="32.7" fill="#196b99"/><path d="M909.2,595.3 L946,595.3 L946,628" fill="none" stroke="#cfe0ea" stroke-width="0.7"/><circle cx="926.5" cy="610.67" r="11.04" fill="none" stroke="#e6d8d4" stroke-width="2"/><line x1="934.22" y1="618.4" x2="942.5" y2="625.02" stroke="#f0f0f0" stroke-width="2.8"/><line x1="910.7" y1="608.77" x2="929.81" y2="608.77" stroke="#ffffff" stroke-width="1.6"/><polygon points="910.7,609.47 929.07,609.47 929.07,610.77 932.57,608.77 929.07,606.77 929.07,608.07 910.7,608.07" fill="#fff"/><polygon points="944,612.97 926.13,612.97 926.13,611.67 922.63,613.67 926.13,615.67 926.13,614.37 944,614.37" fill="#fff"/><rect x="909.2" y="628" width="36.8" height="9.5" fill="#111"/><polygon points="946,628 950.6,623.8 950.6,633.3 946,637.5" fill="#222"/><line x1="909.2" y1="632.75" x2="946" y2="632.75" stroke="#ddd" stroke-width="0.8"/><line x1="909.2" y1="628.3" x2="946" y2="628.3" stroke="#ddd" stroke-width="0.6"/><line x1="912.8" y1="628" x2="912.8" y2="632.75" stroke="#ddd" stroke-width="0.8"/><line x1="926.5" y1="628" x2="926.5" y2="632.75" stroke="#ddd" stroke-width="0.8"/><line x1="941.2" y1="628" x2="941.2" y2="632.75" stroke="#ddd" stroke-width="0.8"/><line x1="918.8" y1="632.75" x2="918.8" y2="637.5" stroke="#ddd" stroke-width="0.8"/><line x1="933.3" y1="632.75" x2="933.3" y2="637.5" stroke="#ddd" stroke-width="0.8"/></g>
<g><polygon points="504.4,533 510.1,527 557,527 551.3,533" fill="#155f89"/><polygon points="551.3,533 557,527 557,555.1 551.3,561.1" fill="#145a82"/><rect x="504.4" y="533" width="46.9" height="28.1" fill="#196b99"/><path d="M504.4,533 L551.3,533 L551.3,561.1" fill="none" stroke="#d8e6ee" stroke-width="0.7"/><circle cx="527" cy="547.3" r="12" fill="none" stroke="#fff" stroke-width="1.7"/><line x1="508.3" y1="541.6" x2="541" y2="541.6" stroke="#fff" stroke-width="1.3"/><polygon points="538,542.25 542,542.25 542,543.7 546,541.6 542,539.5 542,540.95 538,540.95" fill="#fff"/><line x1="512" y1="553.3" x2="546" y2="553.3" stroke="#fff" stroke-width="1.3"/><polygon points="512,552.65 511.5,552.65 511.5,551.2 507.5,553.3 511.5,555.4 511.5,553.95 512,553.95" fill="#fff"/></g>
<g><polygon points="594.2,528.3 599.9,522.3 647.6,522.3 641.9,528.3" fill="#155f89"/><polygon points="641.9,528.3 647.6,522.3 647.6,554.3 641.9,560.3" fill="#145a82"/><rect x="594.2" y="528.3" width="47.7" height="32" fill="#196b99"/><path d="M594.2,528.3 L641.9,528.3 L641.9,560.3" fill="none" stroke="#d8e6ee" stroke-width="0.7"/><circle cx="617.7" cy="542.3" r="10.8" fill="none" stroke="#e6dcd8" stroke-width="2"/><line x1="610" y1="550.6" x2="604.2" y2="558" stroke="#eee" stroke-width="2.4"/><rect x="612.7" y="541" width="10" height="7.5" fill="none" stroke="#d8e4ec" stroke-width="1"/><path d="M614.7,541 v-2.8 a3,3 0 0 1 6,0 v2.8" fill="none" stroke="#d8e4ec" stroke-width="1"/><polygon points="606,537.65 600.5,537.65 600.5,536.5 597.3,538.4 600.5,540.3 600.5,539.15 606,539.15" fill="#fff"/><polygon points="597.3,549.35 602.8,549.35 602.8,550.5 606,548.6 602.8,546.7 602.8,547.85 597.3,547.85" fill="#fff"/><polygon points="629.4,539.15 634.8,539.15 634.8,540.3 638,538.4 634.8,536.5 634.8,537.65 629.4,537.65" fill="#fff"/><polygon points="638,547.85 632.6,547.85 632.6,546.7 629.4,548.6 632.6,550.5 632.6,549.35 638,549.35" fill="#fff"/></g>
<text x="355.95" y="61.2" font-family='"Liberation Sans", sans-serif' font-size="12.5" font-weight="bold" fill="#ff1c1c" stroke="#ff1c1c" stroke-width="0.35" text-anchor="middle" textLength="26.5" lengthAdjust="spacingAndGlyphs">BGP</text>
<text x="355.75" y="76.7" font-family='"Liberation Sans", sans-serif' font-size="12.5" font-weight="bold" fill="#ff1c1c" stroke="#ff1c1c" stroke-width="0.35" text-anchor="middle" textLength="34.7" lengthAdjust="spacingAndGlyphs">AS 54</text>
<text x="540.8" y="97.3" font-family='"Liberation Sans", sans-serif' font-size="12.5" font-weight="bold" fill="#175f8c" stroke="#175f8c" stroke-width="0.35" text-anchor="middle" >100</text>
<text x="778.15" y="90.3" font-family='"Liberation Sans", sans-serif' font-size="12.5" font-weight="bold" fill="#ff1c1c" stroke="#ff1c1c" stroke-width="0.35" text-anchor="middle" textLength="26.5" lengthAdjust="spacingAndGlyphs">BGP</text>
<text x="778" y="105.7" font-family='"Liberation Sans", sans-serif' font-size="12.5" font-weight="bold" fill="#ff1c1c" stroke="#ff1c1c" stroke-width="0.35" text-anchor="middle" textLength="41.8" lengthAdjust="spacingAndGlyphs">AS 100</text>
<text x="632.15" y="93.3" font-family='"Liberation Sans", sans-serif' font-size="12.5" font-weight="bold" fill="#175f8c" stroke="#175f8c" stroke-width="0.35" text-anchor="middle" textLength="36.7" lengthAdjust="spacingAndGlyphs">S0/0/0</text>
<text x="644.2" y="142.1" font-family='"Liberation Sans", sans-serif' font-size="12.5" font-weight="bold" fill="#175f8c" stroke="#175f8c" stroke-width="0.35" text-anchor="middle" textLength="32.2" lengthAdjust="spacingAndGlyphs">Fa0/0</text>
<text x="733.55" y="142.1" font-family='"Liberation Sans", sans-serif' font-size="12.5" font-weight="bold" fill="#175f8c" stroke="#175f8c" stroke-width="0.35" text-anchor="middle" textLength="31.3" lengthAdjust="spacingAndGlyphs">Fa0/1</text>
<text x="664.05" y="202.4" font-family='"Liberation Sans", sans-serif' font-size="12.5" font-weight="bold" fill="#85830f" stroke="#85830f" stroke-width="0.35" text-anchor="middle" textLength="34.9" lengthAdjust="spacingAndGlyphs">RIPv2</text>
<text x="627.25" y="209.32" font-family='"Liberation Sans", sans-serif' font-size="11.4" font-weight="bold" fill="#175f8c" stroke="#175f8c" stroke-width="0.35" text-anchor="middle" textLength="23.5" lengthAdjust="spacingAndGlyphs">E0/0</text>
<text x="627.15" y="222.92" font-family='"Liberation Sans", sans-serif' font-size="11.4" font-weight="bold" fill="#175f8c" stroke="#175f8c" stroke-width="0.35" text-anchor="middle" textLength="40.5" lengthAdjust="spacingAndGlyphs">outside</text>
<text x="599.05" y="296.5" font-family='"Liberation Sans", sans-serif' font-size="12.5" font-weight="bold" fill="#175f8c" stroke="#175f8c" stroke-width="0.35" text-anchor="middle" textLength="32.3" lengthAdjust="spacingAndGlyphs">ASA1</text>
<text x="554.9" y="249.9" font-family='"Liberation Sans", sans-serif' font-size="12.5" font-weight="bold" fill="#175f8c" stroke="#175f8c" stroke-width="0.35" text-anchor="middle" textLength="24" lengthAdjust="spacingAndGlyphs">E0/1</text>
<text x="555.3" y="265.3" font-family='"Liberation Sans", sans-serif' font-size="12.5" font-weight="bold" fill="#175f8c" stroke="#175f8c" stroke-width="0.35" text-anchor="middle" textLength="36.6" lengthAdjust="spacingAndGlyphs">inside</text>
<text x="341.9" y="206.4" font-family='"Liberation Sans", sans-serif' font-size="12.5" font-weight="bold" fill="#1a1af0" stroke="#1a1af0" stroke-width="0.35" text-anchor="middle" textLength="34.4" lengthAdjust="spacingAndGlyphs">OSPF</text>
<text x="341.25" y="222" font-family='"Liberation Sans", sans-serif' font-size="12.5" font-weight="bold" fill="#1a1af0" stroke="#1a1af0" stroke-width="0.35" text-anchor="middle" textLength="44.1" lengthAdjust="spacingAndGlyphs">Area 51</text>
<text x="217.25" y="232.8" font-family='"Liberation Sans", sans-serif' font-size="12.5" font-weight="bold" fill="#175f8c" stroke="#175f8c" stroke-width="0.35" text-anchor="middle" textLength="31.9" lengthAdjust="spacingAndGlyphs">Fa0/0</text>
<text x="142.4" y="272.7" font-family='"Liberation Sans", sans-serif' font-size="12.5" font-weight="bold" fill="#175f8c" stroke="#175f8c" stroke-width="0.35" text-anchor="middle" textLength="30.8" lengthAdjust="spacingAndGlyphs">Fa0/1</text>
<text x="256.15" y="276.2" font-family='"Liberation Sans", sans-serif' font-size="12.5" font-weight="bold" fill="#175f8c" stroke="#175f8c" stroke-width="0.35" text-anchor="middle" textLength="50.5" lengthAdjust="spacingAndGlyphs">S0/0.345</text>
<text x="168.4" y="311.1" font-family='"Liberation Sans", sans-serif' font-size="12.5" font-weight="bold" fill="#175f8c" stroke="#175f8c" stroke-width="0.35" text-anchor="middle" textLength="24.4" lengthAdjust="spacingAndGlyphs">S0/1</text>
<text x="795.6" y="229.7" font-family='"Liberation Sans", sans-serif' font-size="12.5" font-weight="bold" fill="#175f8c" stroke="#175f8c" stroke-width="0.35" text-anchor="middle" textLength="31.8" lengthAdjust="spacingAndGlyphs">Fa0/0</text>
<text x="737.75" y="288.9" font-family='"Liberation Sans", sans-serif' font-size="12.5" font-weight="bold" fill="#175f8c" stroke="#175f8c" stroke-width="0.35" text-anchor="middle" textLength="43.5" lengthAdjust="spacingAndGlyphs">S0/0.23</text>
<text x="833.15" y="283.3" font-family='"Liberation Sans", sans-serif' font-size="12.5" font-weight="bold" fill="#175f8c" stroke="#175f8c" stroke-width="0.35" text-anchor="middle" textLength="43.9" lengthAdjust="spacingAndGlyphs">S0/0.12</text>
<text x="739.7" y="329.1" font-family='"Liberation Sans", sans-serif' font-size="12.5" font-weight="bold" fill="#1a1af0" stroke="#1a1af0" stroke-width="0.35" text-anchor="middle" textLength="34" lengthAdjust="spacingAndGlyphs">OSPF</text>
<text x="739.15" y="344" font-family='"Liberation Sans", sans-serif' font-size="12.5" font-weight="bold" fill="#1a1af0" stroke="#1a1af0" stroke-width="0.35" text-anchor="middle" textLength="44.3" lengthAdjust="spacingAndGlyphs">Area 51</text>
<text x="278.5" y="369.3" font-family='"Liberation Sans", sans-serif' font-size="12.5" font-weight="bold" fill="#175f8c" stroke="#175f8c" stroke-width="0.35" text-anchor="middle" textLength="21" lengthAdjust="spacingAndGlyphs">503</text>
<text x="282" y="460.8" font-family='"Liberation Sans", sans-serif' font-size="12.5" font-weight="bold" fill="#175f8c" stroke="#175f8c" stroke-width="0.35" text-anchor="middle" textLength="20.8" lengthAdjust="spacingAndGlyphs">403</text>
<text x="402.75" y="439.3" font-family='"Liberation Sans", sans-serif' font-size="12.5" font-weight="bold" fill="#175f8c" stroke="#175f8c" stroke-width="0.35" text-anchor="middle" textLength="20.5" lengthAdjust="spacingAndGlyphs">304</text>
<text x="755.4" y="368.6" font-family='"Liberation Sans", sans-serif' font-size="12.5" font-weight="bold" fill="#175f8c" stroke="#175f8c" stroke-width="0.35" text-anchor="middle" textLength="20.8" lengthAdjust="spacingAndGlyphs">213</text>
<text x="843.75" y="350.4" font-family='"Liberation Sans", sans-serif' font-size="12.5" font-weight="bold" fill="#175f8c" stroke="#175f8c" stroke-width="0.35" text-anchor="middle" textLength="19.9" lengthAdjust="spacingAndGlyphs">201</text>
<text x="724.1" y="424" font-family='"Liberation Sans", sans-serif' font-size="12.5" font-weight="bold" fill="#175f8c" stroke="#175f8c" stroke-width="0.35" text-anchor="middle" textLength="20.8" lengthAdjust="spacingAndGlyphs">312</text>
<text x="815.45" y="475.2" font-family='"Liberation Sans", sans-serif' font-size="12.5" font-weight="bold" fill="#175f8c" stroke="#175f8c" stroke-width="0.35" text-anchor="middle" textLength="20.3" lengthAdjust="spacingAndGlyphs">102</text>
<text x="536.25" y="372.3" font-family='"Liberation Sans", sans-serif' font-size="12.5" font-weight="bold" fill="#175f8c" stroke="#175f8c" stroke-width="0.35" text-anchor="middle" textLength="31.3" lengthAdjust="spacingAndGlyphs">Fa0/1</text>
<text x="572.4" y="444" font-family='"Liberation Sans", sans-serif' font-size="12.5" font-weight="bold" fill="#175f8c" stroke="#175f8c" stroke-width="0.35" text-anchor="middle" textLength="32.4" lengthAdjust="spacingAndGlyphs">Fa0/0</text>
<text x="657.35" y="437.3" font-family='"Liberation Sans", sans-serif' font-size="12.5" font-weight="bold" fill="#175f8c" stroke="#175f8c" stroke-width="0.35" text-anchor="middle" textLength="43.7" lengthAdjust="spacingAndGlyphs">S1/1.23</text>
<text x="560.7" y="513.1" font-family='"Liberation Sans", sans-serif' font-size="12.5" font-weight="bold" fill="#85830f" stroke="#85830f" stroke-width="0.35" text-anchor="middle" textLength="34.8" lengthAdjust="spacingAndGlyphs">RIPv2</text>
<text x="531.7" y="585.1" font-family='"Liberation Sans", sans-serif' font-size="12.5" font-weight="bold" fill="#175f8c" stroke="#175f8c" stroke-width="0.35" text-anchor="middle" textLength="19.8" lengthAdjust="spacingAndGlyphs">IPS</text>
<text x="619.3" y="580.2" font-family='"Liberation Sans", sans-serif' font-size="12.5" font-weight="bold" fill="#175f8c" stroke="#175f8c" stroke-width="0.35" text-anchor="middle" textLength="48.8" lengthAdjust="spacingAndGlyphs">AAA/CA</text>
<text x="619.2" y="595.8" font-family='"Liberation Sans", sans-serif' font-size="12.5" font-weight="bold" fill="#175f8c" stroke="#175f8c" stroke-width="0.35" text-anchor="middle" textLength="39.2" lengthAdjust="spacingAndGlyphs">Server</text>
<text x="342" y="530.7" font-family='"Liberation Sans", sans-serif' font-size="12.5" font-weight="bold" fill="#1a1af0" stroke="#1a1af0" stroke-width="0.35" text-anchor="middle" textLength="34.2" lengthAdjust="spacingAndGlyphs">OSPF</text>
<text x="341.95" y="546.2" font-family='"Liberation Sans", sans-serif' font-size="12.5" font-weight="bold" fill="#1a1af0" stroke="#1a1af0" stroke-width="0.35" text-anchor="middle" textLength="38.1" lengthAdjust="spacingAndGlyphs">Area 0</text>
<text x="124.55" y="567.5" font-family='"Liberation Sans", sans-serif' font-size="12.5" font-weight="bold" fill="#ff1c1c" stroke="#ff1c1c" stroke-width="0.35" text-anchor="middle" textLength="27.1" lengthAdjust="spacingAndGlyphs">BGP</text>
<text x="124.2" y="582.1" font-family='"Liberation Sans", sans-serif' font-size="12.5" font-weight="bold" fill="#ff1c1c" stroke="#ff1c1c" stroke-width="0.35" text-anchor="middle" textLength="42" lengthAdjust="spacingAndGlyphs">AS 100</text>
<text x="168.6" y="541.1" font-family='"Liberation Sans", sans-serif' font-size="12.5" font-weight="bold" fill="#175f8c" stroke="#175f8c" stroke-width="0.35" text-anchor="middle" textLength="25" lengthAdjust="spacingAndGlyphs">S0/1</text>
<text x="144.5" y="599.3" font-family='"Liberation Sans", sans-serif' font-size="12.5" font-weight="bold" fill="#175f8c" stroke="#175f8c" stroke-width="0.35" text-anchor="middle" textLength="31.4" lengthAdjust="spacingAndGlyphs">Fa0/1</text>
<text x="237.2" y="599.3" font-family='"Liberation Sans", sans-serif' font-size="12.5" font-weight="bold" fill="#175f8c" stroke="#175f8c" stroke-width="0.35" text-anchor="middle" textLength="32.2" lengthAdjust="spacingAndGlyphs">Fa0/0</text>
<text x="264.2" y="540.9" font-family='"Liberation Sans", sans-serif' font-size="12.5" font-weight="bold" fill="#175f8c" stroke="#175f8c" stroke-width="0.35" text-anchor="middle" textLength="51.2" lengthAdjust="spacingAndGlyphs">S0/0.345</text>
<text x="63.45" y="714.1" font-family='"Liberation Sans", sans-serif' font-size="12.5" font-weight="bold" fill="#ff1c1c" stroke="#ff1c1c" stroke-width="0.35" text-anchor="middle" textLength="26.9" lengthAdjust="spacingAndGlyphs">BGP</text>
<text x="63.7" y="729.2" font-family='"Liberation Sans", sans-serif' font-size="12.5" font-weight="bold" fill="#ff1c1c" stroke="#ff1c1c" stroke-width="0.35" text-anchor="middle" textLength="35" lengthAdjust="spacingAndGlyphs">AS 54</text>
<text x="246.7" y="674" font-family='"Liberation Sans", sans-serif' font-size="12.5" font-weight="bold" fill="#175f8c" stroke="#175f8c" stroke-width="0.35" text-anchor="middle" textLength="29.2" lengthAdjust="spacingAndGlyphs">V407</text>
<text x="327.55" y="692.5" font-family='"Liberation Sans", sans-serif' font-size="12.5" font-weight="bold" fill="#175f8c" stroke="#175f8c" stroke-width="0.35" text-anchor="middle" textLength="15.7" lengthAdjust="spacingAndGlyphs">V7</text>
<text x="825.3" y="548.7" font-family='"Liberation Sans", sans-serif' font-size="12.5" font-weight="bold" fill="#175f8c" stroke="#175f8c" stroke-width="0.35" text-anchor="middle" textLength="32.4" lengthAdjust="spacingAndGlyphs">Fa0/0</text>
<text x="756.5" y="508.3" font-family='"Liberation Sans", sans-serif' font-size="12.5" font-weight="bold" fill="#175f8c" stroke="#175f8c" stroke-width="0.35" text-anchor="middle" textLength="44" lengthAdjust="spacingAndGlyphs">S0/0.12</text>
<text x="892.2" y="581.15" font-family='"Liberation Sans", sans-serif' font-size="11.2" font-weight="bold" fill="#175f8c" stroke="#175f8c" stroke-width="0.35" text-anchor="middle" textLength="22.6" lengthAdjust="spacingAndGlyphs">E0/1</text>
<text x="892.8" y="593.25" font-family='"Liberation Sans", sans-serif' font-size="11.2" font-weight="bold" fill="#175f8c" stroke="#175f8c" stroke-width="0.35" text-anchor="middle" textLength="32.8" lengthAdjust="spacingAndGlyphs">inside</text>
<text x="972.2" y="615.7" font-family='"Liberation Sans", sans-serif' font-size="12.5" font-weight="bold" fill="#175f8c" stroke="#175f8c" stroke-width="0.35" text-anchor="middle" textLength="33.8" lengthAdjust="spacingAndGlyphs">ASA2</text>
<text x="833" y="641.4" font-family='"Liberation Sans", sans-serif' font-size="12.5" font-weight="bold" fill="#85830f" stroke="#85830f" stroke-width="0.35" text-anchor="middle" textLength="34.4" lengthAdjust="spacingAndGlyphs">RIPv2</text>
<text x="888.8" y="641.85" font-family='"Liberation Sans", sans-serif' font-size="11.2" font-weight="bold" fill="#175f8c" stroke="#175f8c" stroke-width="0.35" text-anchor="middle" textLength="22.6" lengthAdjust="spacingAndGlyphs">E0/0</text>
<text x="888.8" y="653.85" font-family='"Liberation Sans", sans-serif' font-size="11.2" font-weight="bold" fill="#175f8c" stroke="#175f8c" stroke-width="0.35" text-anchor="middle" textLength="40.8" lengthAdjust="spacingAndGlyphs">outside</text>
<text x="830.6" y="689.4" font-family='"Liberation Sans", sans-serif' font-size="12.5" font-weight="bold" fill="#175f8c" stroke="#175f8c" stroke-width="0.35" text-anchor="middle" textLength="55.2" lengthAdjust="spacingAndGlyphs">VLAN128</text>
<text x="939.55" y="722.96" font-family='"Liberation Sans", sans-serif' font-size="11.5" font-weight="bold" fill="#175f8c" stroke="#175f8c" stroke-width="0.35" text-anchor="middle" textLength="75.9" lengthAdjust="spacingAndGlyphs">CCIE Security</text>
<text x="940.05" y="736.26" font-family='"Liberation Sans", sans-serif' font-size="11.5" font-weight="bold" fill="#175f8c" stroke="#175f8c" stroke-width="0.35" text-anchor="middle" textLength="135.1" lengthAdjust="spacingAndGlyphs">Lab Workbook Volume II</text>
<text x="939.55" y="750.46" font-family='"Liberation Sans", sans-serif' font-size="11.5" font-weight="bold" fill="#175f8c" stroke="#175f8c" stroke-width="0.35" text-anchor="middle" textLength="91.7" lengthAdjust="spacingAndGlyphs">(IEWB-SC-VOL2)</text>
<text x="893" y="764.46" font-family='"Liberation Sans", sans-serif' font-size="11.5" font-weight="bold" fill="#175f8c" stroke="#175f8c" stroke-width="0.35" text-anchor="start" >Version 5.0</text>
<text x="939.5" y="778.96" font-family='"Liberation Sans", sans-serif' font-size="11.5" font-weight="bold" fill="#175f8c" stroke="#175f8c" stroke-width="0.35" text-anchor="middle" >&#169;2008 Internetwork Expert</text>
<rect x="530.9" y="683" width="164.5" height="87.7" rx="9" fill="none" stroke="#17638f" stroke-width="2"/>
<text x="612.9" y="699.1" font-family='"Liberation Sans", sans-serif' font-size="12.5" font-weight="bold" fill="#175f8c" stroke="#175f8c" stroke-width="0.35" text-anchor="middle" textLength="45" lengthAdjust="spacingAndGlyphs">Legend</text>
<text x="546.7" y="724.94" font-family='"Liberation Sans", sans-serif' font-size="10" font-weight="bold" fill="#1b5a82" stroke="#1b5a82" stroke-width="0.35" text-anchor="middle" textLength="21.6" lengthAdjust="spacingAndGlyphs">BGP</text>
<text x="549.35" y="737.54" font-family='"Liberation Sans", sans-serif' font-size="10" font-weight="bold" fill="#1b5a82" stroke="#1b5a82" stroke-width="0.35" text-anchor="middle" textLength="26.9" lengthAdjust="spacingAndGlyphs">OSPF</text>
<text x="551.55" y="749.84" font-family='"Liberation Sans", sans-serif' font-size="10" font-weight="bold" fill="#1b5a82" stroke="#1b5a82" stroke-width="0.35" text-anchor="middle" textLength="31.3" lengthAdjust="spacingAndGlyphs">EIGRP</text>
<text x="544.05" y="762.14" font-family='"Liberation Sans", sans-serif' font-size="10" font-weight="bold" fill="#1b5a82" stroke="#1b5a82" stroke-width="0.35" text-anchor="middle" textLength="16.3" lengthAdjust="spacingAndGlyphs">RIP</text>
<line x1="585.1" y1="718.6" x2="684.6" y2="718.6" stroke="#ff1c1c" stroke-width="2.1" stroke-dasharray="12.1,6.6"/>
<line x1="585.1" y1="732.7" x2="684.6" y2="732.7" stroke="#1722f0" stroke-width="2.1" stroke-dasharray="6,3.7"/>
<line x1="585.1" y1="746.7" x2="684.6" y2="746.7" stroke="#a0306e" stroke-width="2.1" stroke-dasharray="12.1,6.6"/>
<line x1="585.1" y1="760.8" x2="684.6" y2="760.8" stroke="#c6be2c" stroke-width="2.1" stroke-dasharray="12.1,6.6"/>
<text x="832.2" y="46.8" font-family='"Liberation Sans", sans-serif' font-size="56.5" font-weight="bold" fill="url(#gtc)" stroke="#c4c4c4" stroke-width="4.5" paint-order="stroke" stroke-linejoin="round" textLength="188.2" lengthAdjust="spacingAndGlyphs">TC4S.net</text>
<text x="832.2" y="46.8" font-family='"Liberation Sans", sans-serif' font-size="56.5" font-weight="bold" fill="url(#gtc)" stroke="url(#gtc)" stroke-width="2.2" stroke-linejoin="round" textLength="188.2" lengthAdjust="spacingAndGlyphs">TC4S.net</text>
<text x="770.3" y="30.4" font-family='"Liberation Sans", sans-serif' font-size="16.5" font-weight="bold" fill="#12608f" textLength="117.3" lengthAdjust="spacingAndGlyphs">www.INE.com</text>
<rect x="374" y="380" width="277" height="33" rx="3" fill="#9a9a9a" opacity="0.35"/>
<rect x="372" y="377.5" width="277.5" height="33.5" rx="3" fill="#fff"/>
<g><text x="377.1" y="404.3" font-family='"Liberation Serif", serif' font-size="32" font-weight="bold" fill="#fff" stroke="#fff" stroke-width="11" stroke-linejoin="miter" textLength="24.4" lengthAdjust="spacingAndGlyphs">D</text><text x="377.1" y="404.3" font-family='"Liberation Serif", serif' font-size="32" font-weight="bold" fill="url(#gdl)" stroke="url(#gdl)" stroke-width="8" stroke-linejoin="miter" textLength="24.4" lengthAdjust="spacingAndGlyphs">D</text><text x="377.1" y="404.3" font-family='"Liberation Serif", serif' font-size="32" font-weight="bold" fill="none" stroke="#f6d6d8" stroke-width="0.7" opacity="0.35" textLength="24.4" lengthAdjust="spacingAndGlyphs">D</text><text x="409.4" y="404.3" font-family='"Liberation Serif", serif' font-size="32" font-weight="bold" fill="#fff" stroke="#fff" stroke-width="11" stroke-linejoin="miter" textLength="22.8" lengthAdjust="spacingAndGlyphs">L</text><text x="409.4" y="404.3" font-family='"Liberation Serif", serif' font-size="32" font-weight="bold" fill="url(#gdl)" stroke="url(#gdl)" stroke-width="8" stroke-linejoin="miter" textLength="22.8" lengthAdjust="spacingAndGlyphs">L</text><text x="409.4" y="404.3" font-family='"Liberation Serif", serif' font-size="32" font-weight="bold" fill="none" stroke="#f6d6d8" stroke-width="0.7" opacity="0.35" textLength="22.8" lengthAdjust="spacingAndGlyphs">L</text><text x="440.1" y="404.3" font-family='"Liberation Serif", serif' font-size="32" font-weight="bold" fill="#fff" stroke="#fff" stroke-width="11" stroke-linejoin="miter" textLength="21.4" lengthAdjust="spacingAndGlyphs">S</text><text x="440.1" y="404.3" font-family='"Liberation Serif", serif' font-size="32" font-weight="bold" fill="url(#gdl)" stroke="url(#gdl)" stroke-width="8" stroke-linejoin="miter" textLength="21.4" lengthAdjust="spacingAndGlyphs">S</text><text x="440.1" y="404.3" font-family='"Liberation Serif", serif' font-size="32" font-weight="bold" fill="none" stroke="#f6d6d8" stroke-width="0.7" opacity="0.35" textLength="21.4" lengthAdjust="spacingAndGlyphs">S</text><text x="468" y="404.3" font-family='"Liberation Serif", serif' font-size="32" font-weight="bold" fill="#fff" stroke="#fff" stroke-width="11" stroke-linejoin="miter" textLength="24.3" lengthAdjust="spacingAndGlyphs">U</text><text x="468" y="404.3" font-family='"Liberation Serif", serif' font-size="32" font-weight="bold" fill="url(#gdl)" stroke="url(#gdl)" stroke-width="8" stroke-linejoin="miter" textLength="24.3" lengthAdjust="spacingAndGlyphs">U</text><text x="468" y="404.3" font-family='"Liberation Serif", serif' font-size="32" font-weight="bold" fill="none" stroke="#f6d6d8" stroke-width="0.7" opacity="0.35" textLength="24.3" lengthAdjust="spacingAndGlyphs">U</text><text x="500.2" y="404.3" font-family='"Liberation Serif", serif' font-size="32" font-weight="bold" fill="#fff" stroke="#fff" stroke-width="11" stroke-linejoin="miter" textLength="22.8" lengthAdjust="spacingAndGlyphs">B</text><text x="500.2" y="404.3" font-family='"Liberation Serif", serif' font-size="32" font-weight="bold" fill="url(#gdl)" stroke="url(#gdl)" stroke-width="8" stroke-linejoin="miter" textLength="22.8" lengthAdjust="spacingAndGlyphs">B</text><text x="500.2" y="404.3" font-family='"Liberation Serif", serif' font-size="32" font-weight="bold" fill="none" stroke="#f6d6d8" stroke-width="0.7" opacity="0.35" textLength="22.8" lengthAdjust="spacingAndGlyphs">B</text><text x="531" y="404.3" font-family='"Liberation Serif", serif' font-size="32" font-weight="bold" fill="#fff" stroke="#fff" stroke-width="11" stroke-linejoin="miter" textLength="5.2" lengthAdjust="spacingAndGlyphs">.</text><text x="531" y="404.3" font-family='"Liberation Serif", serif' font-size="32" font-weight="bold" fill="url(#gdl)" stroke="url(#gdl)" stroke-width="8" stroke-linejoin="miter" textLength="5.2" lengthAdjust="spacingAndGlyphs">.</text><text x="531" y="404.3" font-family='"Liberation Serif", serif' font-size="32" font-weight="bold" fill="none" stroke="#f6d6d8" stroke-width="0.7" opacity="0.35" textLength="5.2" lengthAdjust="spacingAndGlyphs">.</text><text x="542.7" y="404.3" font-family='"Liberation Serif", serif' font-size="32" font-weight="bold" fill="#fff" stroke="#fff" stroke-width="11" stroke-linejoin="miter" textLength="25.8" lengthAdjust="spacingAndGlyphs">C</text><text x="542.7" y="404.3" font-family='"Liberation Serif", serif' font-size="32" font-weight="bold" fill="url(#gdl)" stroke="url(#gdl)" stroke-width="8" stroke-linejoin="miter" textLength="25.8" lengthAdjust="spacingAndGlyphs">C</text><text x="542.7" y="404.3" font-family='"Liberation Serif", serif' font-size="32" font-weight="bold" fill="none" stroke="#f6d6d8" stroke-width="0.7" opacity="0.35" textLength="25.8" lengthAdjust="spacingAndGlyphs">C</text><text x="574.9" y="404.3" font-family='"Liberation Serif", serif' font-size="32" font-weight="bold" fill="#fff" stroke="#fff" stroke-width="11" stroke-linejoin="miter" textLength="25.8" lengthAdjust="spacingAndGlyphs">O</text><text x="574.9" y="404.3" font-family='"Liberation Serif", serif' font-size="32" font-weight="bold" fill="url(#gdl)" stroke="url(#gdl)" stroke-width="8" stroke-linejoin="miter" textLength="25.8" lengthAdjust="spacingAndGlyphs">O</text><text x="574.9" y="404.3" font-family='"Liberation Serif", serif' font-size="32" font-weight="bold" fill="none" stroke="#f6d6d8" stroke-width="0.7" opacity="0.35" textLength="25.8" lengthAdjust="spacingAndGlyphs">O</text><text x="608.6" y="404.3" font-family='"Liberation Serif", serif' font-size="32" font-weight="bold" fill="#fff" stroke="#fff" stroke-width="11" stroke-linejoin="miter" textLength="37.5" lengthAdjust="spacingAndGlyphs">M</text><text x="608.6" y="404.3" font-family='"Liberation Serif", serif' font-size="32" font-weight="bold" fill="url(#gdl)" stroke="url(#gdl)" stroke-width="8" stroke-linejoin="miter" textLength="37.5" lengthAdjust="spacingAndGlyphs">M</text><text x="608.6" y="404.3" font-family='"Liberation Serif", serif' font-size="32" font-weight="bold" fill="none" stroke="#f6d6d8" stroke-width="0.7" opacity="0.35" textLength="37.5" lengthAdjust="spacingAndGlyphs">M</text></g>
<text x="715.2" y="774.4" font-family='"Liberation Sans", sans-serif' font-size="33" font-weight="bold" fill="#fff" stroke="#fff" stroke-width="9" stroke-linejoin="round" textLength="296.5" lengthAdjust="spacingAndGlyphs">TradersXtreme.com</text>
<text x="717" y="776.5" font-family='"Liberation Sans", sans-serif' font-size="33" font-weight="bold" fill="#777" stroke="#777" stroke-width="5" stroke-linejoin="round" opacity="0.55" textLength="296.5" lengthAdjust="spacingAndGlyphs">TradersXtreme.com</text>
<text x="715.2" y="774.4" font-family='"Liberation Sans", sans-serif' font-size="33" font-weight="bold" fill="url(#gtx)" stroke="#2a2222" stroke-width="3.0" paint-order="stroke" stroke-linejoin="round" textLength="296.5" lengthAdjust="spacingAndGlyphs">TradersXtreme.com</text></svg>
</body></html>
